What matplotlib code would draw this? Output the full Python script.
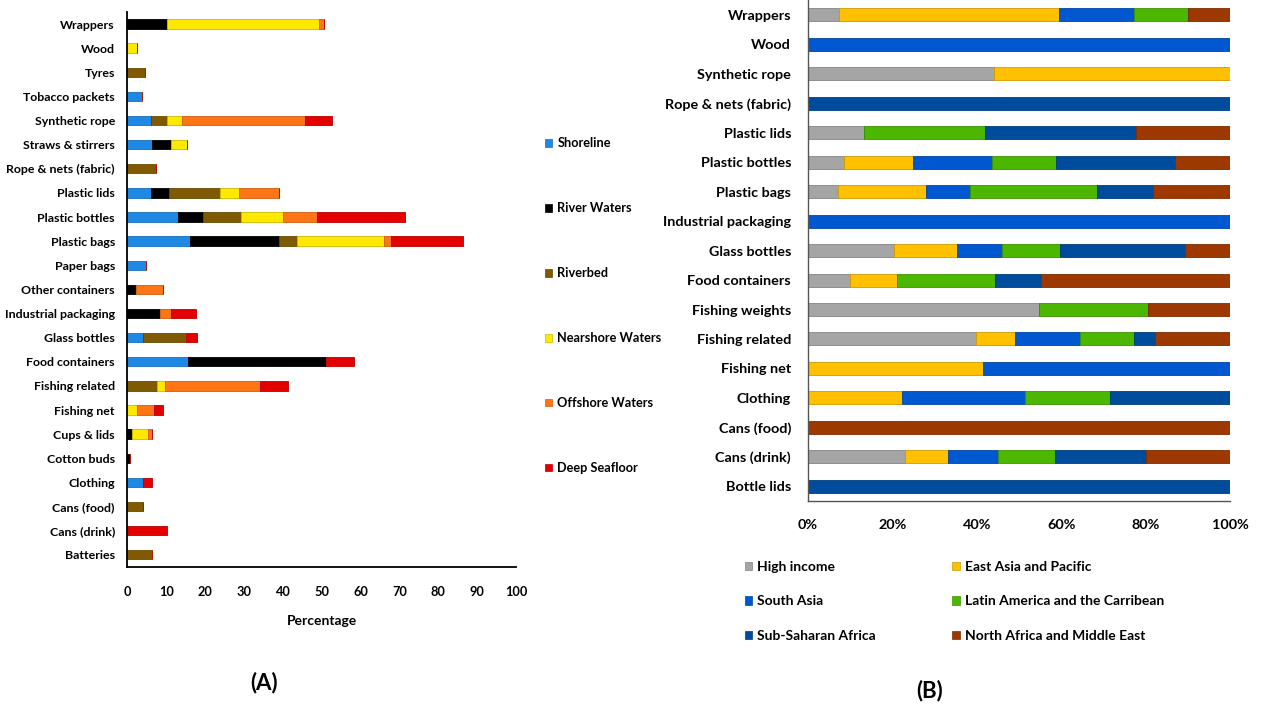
import numpy as np
import matplotlib
matplotlib.use("Agg")
import matplotlib.pyplot as plt
from matplotlib.patches import Patch
from matplotlib.colors import to_rgb

plt.rcParams['font.family'] = ['Lato', 'DejaVu Sans']
plt.rcParams['font.weight'] = 'bold'

# ---------------- Panel A: items by environment (percentage) ----------------
items_a = ["Wrappers", "Wood", "Tyres", "Tobacco packets", "Synthetic rope",
           "Straws & stirrers", "Rope & nets (fabric)", "Plastic lids",
           "Plastic bottles", "Plastic bags", "Paper bags", "Other containers",
           "Industrial packaging", "Glass bottles", "Food containers",
           "Fishing related", "Fishing net", "Cups & lids", "Cotton buds",
           "Clothing", "Cans (food)", "Cans (drink)", "Batteries"]

shoreline = [0, 0, 0, 3.7, 6.1, 6.3, 0, 6.1, 12.9, 16.2, 4.7, 0, 0, 3.9, 15.6,
             0, 0, 0, 0, 3.9, 0, 0, 0]
river_waters = [10.3, 0, 0, 0, 0, 4.8, 0, 4.5, 6.5, 22.9, 0, 2.1, 8.4, 0, 35.6,
                0, 0, 1.2, 0.6, 0, 0, 0, 0]
riverbed = [0, 0, 4.4, 0, 4.1, 0, 7.3, 13.3, 9.7, 4.4, 0, 0, 0, 11.1, 0,
            7.7, 0, 0, 0, 0, 4.1, 0, 6.2]
nearshore = [39.0, 2.4, 0, 0, 3.8, 4.2, 0, 4.7, 11.0, 22.6, 0, 0, 0, 0, 0,
             1.9, 2.5, 4.0, 0, 0, 0, 0, 0]
offshore = [1.2, 0, 0, 0, 31.8, 0, 0, 10.4, 8.7, 1.6, 0, 7.0, 2.7, 0, 0,
            24.4, 4.3, 1.2, 0, 0, 0, 0, 0]
deep_seafloor = [0, 0, 0, 0, 6.9, 0, 0, 0, 22.5, 18.5, 0, 0, 6.6, 2.8, 7.1,
                 7.2, 2.4, 0, 0, 2.3, 0, 10.3, 0]

series_a = ["Shoreline", "River Waters", "Riverbed", "Nearshore Waters",
            "Offshore Waters", "Deep Seafloor"]
values_a = [shoreline, river_waters, riverbed, nearshore, offshore, deep_seafloor]
colors_a = ["#1E88E5", "#000000", "#7F5A00", "#FFE800", "#FF7414", "#E50000"]
ticks_a = [0, 10, 20, 30, 40, 50, 60, 70, 80, 90, 100]

# ---------------- Panel B: items by region (share) ----------------
items_b = ["Wrappers", "Wood", "Synthetic rope", "Rope & nets (fabric)",
           "Plastic lids", "Plastic bottles", "Plastic bags",
           "Industrial packaging", "Glass bottles", "Food containers",
           "Fishing weights", "Fishing related", "Fishing net", "Clothing",
           "Cans (food)", "Cans (drink)", "Bottle lids"]

high_income = [7.3, 0, 44.0, 0, 13.3, 8.6, 7.1, 0, 20.4, 9.9, 54.6, 39.9, 0, 0, 0, 23.0, 0]
east_asia = [52.1, 0, 56.0, 0, 0, 16.3, 20.9, 0, 15.0, 11.2, 0, 9.1, 41.5, 22.2, 0, 10.2, 0]
south_asia = [17.9, 100, 0, 0, 0, 18.8, 10.5, 100, 10.6, 0, 0, 15.4, 58.5, 29.3, 0, 11.9, 0]
latin_america = [12.6, 0, 0, 0, 28.6, 15.1, 29.9, 0, 13.6, 23.1, 26.0, 12.9, 0, 19.9, 0, 13.3, 0]
sub_saharan = [0, 0, 0, 100, 35.8, 28.1, 13.3, 0, 29.7, 11.0, 0, 4.9, 0, 28.6, 0, 21.7, 100]
north_africa = [10.1, 0, 0, 0, 22.3, 13.1, 18.3, 0, 10.7, 44.8, 19.4, 17.8, 0, 0, 100, 19.9, 0]

series_b = ["High income", "East Asia and Pacific", "South Asia",
            "Latin America and the Carribean", "Sub-Saharan Africa",
            "North Africa and Middle East"]
values_b = [high_income, east_asia, south_asia, latin_america, sub_saharan, north_africa]
colors_b = ["#A5A5A5", "#FFC000", "#0058D0", "#4CB700", "#004C9C", "#9C3800"]
ticks_b = [0, 20, 40, 60, 80, 100]
ticklabels_b = ["0%", "20%", "40%", "60%", "80%", "100%"]


def darker(c, f=0.8):
    r, g, b = to_rgb(c)
    return (r * f, g * f, b * f)


fig = plt.figure(figsize=(12.62, 7.05), dpi=100)

# ---- Panel A ----
axA = fig.add_axes([0.101, 0.196, 0.308, 0.787])
ypos_a = np.arange(len(items_a))[::-1]
left = np.zeros(len(items_a))
for name, vals, col in zip(series_a, values_a, colors_a):
    vals = np.array(vals)
    axA.barh(ypos_a, vals, left=left, height=0.39, color=col,
             edgecolor=darker(col), linewidth=0.6, label=name)
    left += vals
axA.set_xlim(0, 100)
axA.set_ylim(-0.5, len(items_a) - 0.5)
axA.set_yticks(ypos_a)
axA.set_yticklabels(items_a, fontsize=8.9, fontweight='bold')
axA.set_xticks(ticks_a)
axA.set_xticklabels([str(t) for t in ticks_a], fontsize=9.2, fontweight='bold')
axA.tick_params(axis='both', length=0)
axA.tick_params(axis='y', pad=9)
axA.tick_params(axis='x', pad=14)
for s in ("top", "right"):
    axA.spines[s].set_visible(False)
for s in ("left", "bottom"):
    axA.spines[s].set_linewidth(1.3)
axA.set_xlabel("Percentage", fontsize=10, fontweight='bold', labelpad=12)

hA = [Patch(facecolor=c, edgecolor=darker(c), linewidth=0.5) for c in colors_a]
fig.legend(hA, series_a, loc='upper left', bbox_to_anchor=(0.432, 0.805),
           bbox_transform=fig.transFigure, frameon=False,
           handlelength=0.55, handleheight=0.55, handletextpad=0.4,
           labelspacing=4.14, borderpad=0, borderaxespad=0,
           prop={'weight': 'bold', 'size': 9.2})

fig.text(0.209, 0.032, "(A)", fontsize=16, fontweight='bold', ha='center', va='center')

# ---- Panel B ----
axB = fig.add_axes([0.640, 0.2894, 0.335, 0.7103])
ypos_b = np.arange(len(items_b))[::-1]
left = np.zeros(len(items_b))
for name, vals, col in zip(series_b, values_b, colors_b):
    vals = np.array(vals)
    axB.barh(ypos_b, vals, left=left, height=0.44, color=col,
             edgecolor=darker(col), linewidth=0.6, label=name)
    left += vals
axB.set_xlim(0, 100)
axB.set_ylim(-0.5, len(items_b) - 0.5)
axB.set_yticks(ypos_b)
axB.set_yticklabels(items_b, fontsize=10.4, fontweight='bold')
axB.set_xticks(ticks_b)
axB.set_xticklabels(ticklabels_b, fontsize=10.4, fontweight='bold')
axB.tick_params(axis='both', length=0)
axB.tick_params(axis='y', pad=12)
axB.tick_params(axis='x', pad=13)
for s in ("top", "right"):
    axB.spines[s].set_visible(False)
axB.spines["left"].set_linewidth(1.0)
axB.spines["left"].set_color("#555555")
axB.spines["bottom"].set_linewidth(1.0)
axB.spines["bottom"].set_color("#555555")

hB = [Patch(facecolor=c, edgecolor=darker(c), linewidth=0.5) for c in colors_b]
order = [0, 2, 4, 1, 3, 5]
fig.legend([hB[i] for i in order], [series_b[i] for i in order], ncol=2,
           loc='upper left', bbox_to_anchor=(0.590, 0.2043),
           bbox_transform=fig.transFigure, frameon=False,
           handlelength=0.55, handleheight=0.55, handletextpad=0.35,
           labelspacing=1.61, columnspacing=5.5, borderpad=0, borderaxespad=0,
           prop={'weight': 'bold', 'size': 10})

fig.text(0.737, 0.021, "(B)", fontsize=16, fontweight='bold', ha='center', va='center')

fig.savefig("out.png", dpi=100)
